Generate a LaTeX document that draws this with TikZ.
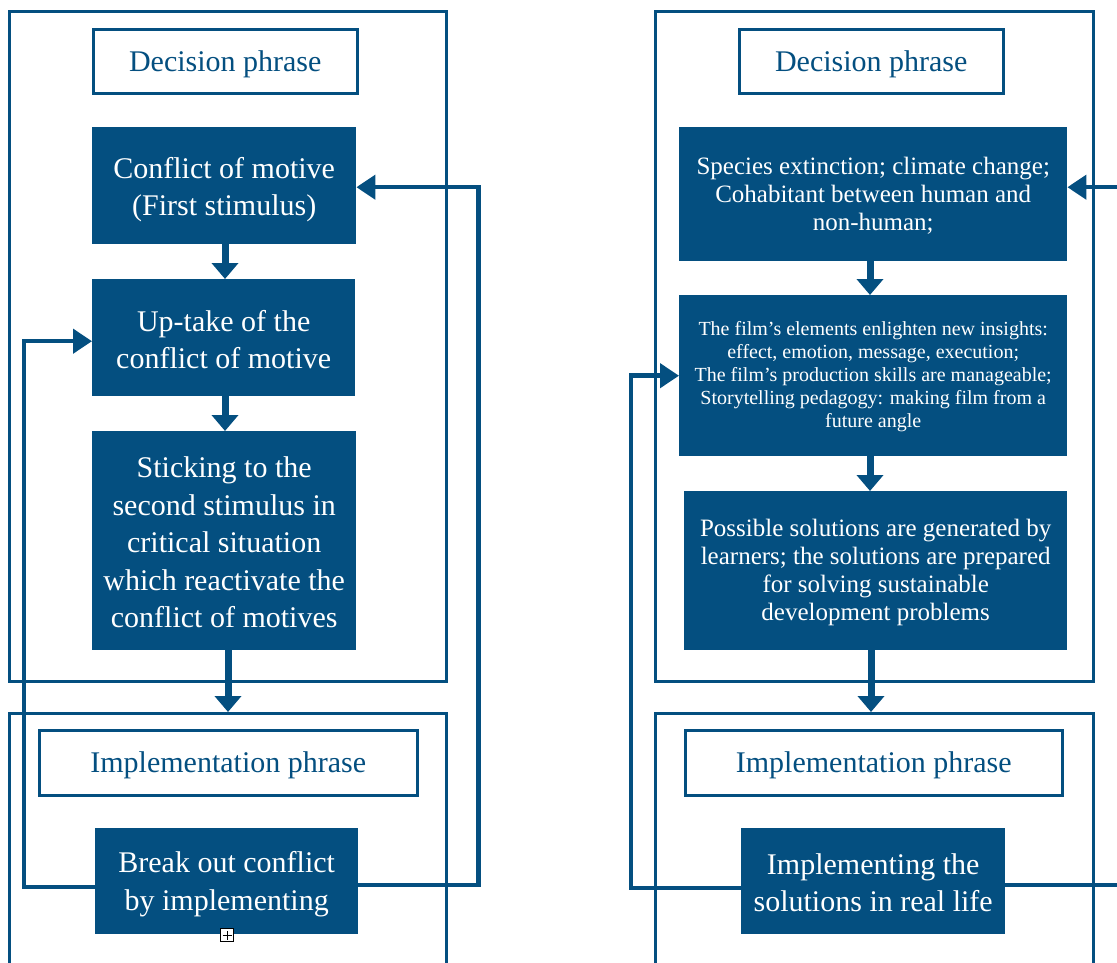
\documentclass[tikz,border=0pt]{standalone}
\usepackage{fontspec}
\setmainfont{Liberation Serif}
\usetikzlibrary{arrows.meta}
\definecolor{navy}{RGB}{4,79,128}
\begin{document}
\begin{tikzpicture}[x=1pt,y=-1pt,
  frame/.style={draw=navy, line width=2.5pt, inner sep=0pt, anchor=north west},
  phasebox/.style={draw=navy, line width=2.5pt, fill=white, inner sep=0pt, anchor=north west},
  darkbox/.style={fill=navy, inner sep=0pt, anchor=north west},
  plbl/.style={text=navy, inner sep=0pt, font=\fontsize{30}{36}\selectfont},
  dlbl/.style={text=white, inner sep=0pt, align=center},
  big/.style={font=\fontsize{30}{37.5}\selectfont},
  mid/.style={font=\fontsize{25}{28}\selectfont},
  small/.style={font=\fontsize{20}{22.8}\selectfont},
  flow/.style={draw=navy, line width=7pt, -{Triangle[length=16pt,width=26pt]}},
  loopback/.style={draw=navy, line width=4.5pt, -{Triangle[length=19pt,width=24pt]}},
]
\useasboundingbox (0,0) rectangle (1117,962);
\clip (0,0) rectangle (1117,962);

% ---------------- left cycle ----------------
\node[frame, minimum width=437, minimum height=670] (decL) at (8,10) {};
\node[frame, minimum width=437, minimum height=300] (impL) at (8,712) {};
\node[phasebox, minimum width=264, minimum height=64,
  label={[plbl, yshift=-3pt]center:Decision phrase}] (dpL) at (92,28) {};
\node[darkbox, minimum width=264, minimum height=117,
  label={[dlbl, big, yshift=-4pt]center:{Conflict of motive\\(First stimulus)}}] (c1) at (92,127) {};
\node[darkbox, minimum width=263, minimum height=117,
  label={[dlbl, big, yshift=-2pt]center:{Up-take of the\\conflict of motive}}] (u1) at (92,279) {};
\node[darkbox, minimum width=264, minimum height=219,
  label={[dlbl, big, yshift=-2pt]center:{Sticking to the\\second stimulus in\\critical situation\\which reactivate the\\conflict of motives}}] (st) at (92,431) {};
\node[phasebox, minimum width=378, minimum height=65,
  label={[plbl, yshift=-3pt]center:Implementation phrase}] (ipL) at (38,729) {};
\node[darkbox, minimum width=263, minimum height=106,
  label={[dlbl, big, yshift=-3pt]center:{Break out conflict\\by implementing}}] (b1) at (95,828) {};

\coordinate (lx) at (225,0);
\coordinate (lx2) at (228,0);
\draw[flow] (c1.south -| lx) -- (u1.north -| lx);
\draw[flow] (u1.south -| lx) -- (st.north -| lx);
\draw[flow] (st.south -| lx2) -- (impL.north -| lx2);

\draw[loopback] ([yshift=-6pt]b1.west) -| ([xshift=-68pt,yshift=-3.5pt]u1.west)
  -- ([yshift=-3.5pt]u1.west);
\draw[loopback] ([yshift=-4pt]b1.east) -| ([xshift=122pt,yshift=-1.5pt]c1.east)
  -- ([yshift=-1.5pt]c1.east);

% small anchor marker below the last box
\node[draw=black, fill=white, line width=0.8pt, minimum size=13pt, inner sep=0pt] (mark) at (227,935) {};
\draw[line width=0.8pt] ([xshift=-4.5pt]mark.center) -- ([xshift=4.5pt]mark.center);
\draw[line width=0.8pt] ([yshift=-4.5pt]mark.center) -- ([yshift=4.5pt]mark.center);

% ---------------- right cycle ----------------
\node[frame, minimum width=438, minimum height=670] (decR) at (654,10) {};
\node[frame, minimum width=438, minimum height=300] (impR) at (654,712) {};
\node[phasebox, minimum width=264, minimum height=64,
  label={[plbl, yshift=-3pt]center:Decision phrase}] (dpR) at (738,28) {};
\node[darkbox, minimum width=388, minimum height=134,
  label={[dlbl, mid, yshift=-2pt]center:{Species extinction; climate change;\\Cohabitant between human and\\non-human;}}] (s1) at (679,127) {};
\node[darkbox, minimum width=388, minimum height=161,
  label={[dlbl, small, yshift=-1pt]center:{The film’s elements enlighten new insights:\\effect, emotion, message, execution;\\The film’s production skills are manageable;\\Storytelling pedagogy: making film from a\\future angle}}] (f1) at (679,295) {};
\node[darkbox, minimum width=383, minimum height=159,
  label={[dlbl, mid, yshift=-2pt]center:{Possible solutions are generated by\\learners; the solutions are prepared\\for solving sustainable\\development problems}}] (p1) at (684,491) {};
\node[phasebox, minimum width=377, minimum height=65,
  label={[plbl, yshift=-3pt]center:Implementation phrase}] (ipR) at (684,729) {};
\node[darkbox, minimum width=264, minimum height=106,
  label={[dlbl, big, yshift=-1.5pt]center:{Implementing the\\solutions in real life}}] (i1) at (741,828) {};

\coordinate (rx) at (870,0);
\coordinate (rx2) at (871,0);
\draw[flow] (s1.south -| rx) -- (f1.north -| rx);
\draw[flow] (f1.south -| rx) -- (p1.north -| rx);
\draw[flow] (p1.south -| rx2) -- (impR.north -| rx2);

\draw[loopback] ([yshift=-7pt]i1.west) -| ([xshift=-48pt]f1.west) -- (f1.west);
\draw[loopback] ([yshift=-4pt]i1.east) -| ([xshift=80pt,yshift=7pt]s1.east)
  -- ([yshift=7pt]s1.east);
\end{tikzpicture}
\end{document}
